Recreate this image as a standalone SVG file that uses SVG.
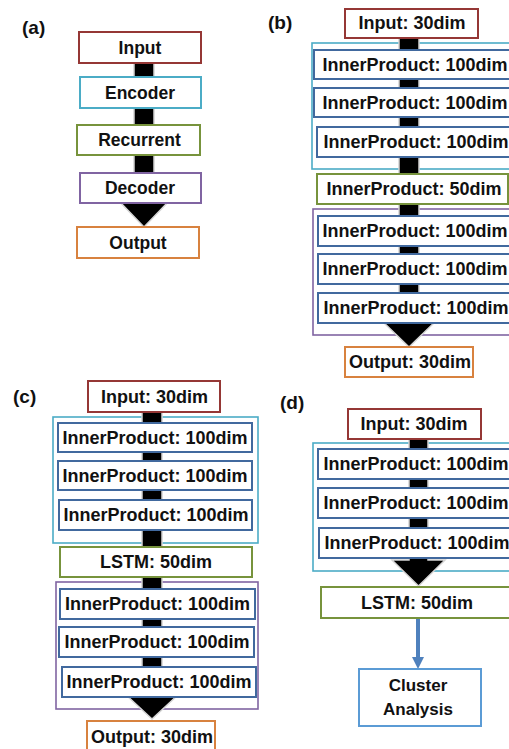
<svg xmlns="http://www.w3.org/2000/svg" width="509" height="749" viewBox="0 0 509 749">
<style>
text{font-family:"Liberation Sans",Arial,sans-serif;font-weight:bold;fill:#111;text-anchor:middle}
.lbl{font-size:19px;text-anchor:start}
.a{font-size:17.5px}
.t{font-size:18px}
.c{font-size:17px}
rect{fill:#fff;stroke-width:2}
.in{stroke:#953735}
.enc{stroke:#4bacc6}
.rec{stroke:#77933c}
.dec{stroke:#8064a2}
.out{stroke:#d8823f}
.ip{stroke:#41699e}
.clu{stroke:#5b9bd5}
.grp{fill:none;stroke-width:1.6}
.ge{stroke:#4bacc6}
.gd{stroke:#8064a2}
.arr{fill:#000;stroke:#d4d4d4;stroke-width:1.5}
</style>
<text class="lbl" x="22" y="34">(a)</text>
<text class="lbl" x="268" y="29">(b)</text>
<text class="lbl" x="13" y="403">(c)</text>
<text class="lbl" x="280" y="409">(d)</text>

<!-- group frames -->
<g id="frames">
<rect class="grp ge" x="312" y="43" width="210" height="126"/>
<rect class="grp gd" x="313" y="209" width="210" height="126"/>
<rect class="grp ge" x="53" y="417" width="205" height="126"/>
<rect class="grp gd" x="56" y="582" width="202" height="127"/>
<rect class="grp ge" x="313" y="443" width="210" height="128"/>
</g>

<!-- connectors -->
<g id="connectors">
<polygon class="arr" points="134,63 154,63 154,200 170,200 144,227 118,200 134,200 134,63"/>
<polygon class="arr" points="399,38 419,38 419,320 437,320 409,347 381,320 399,320 399,38"/>
<polygon class="arr" points="142,412 162,412 162,693 180,693 152,719 124,693 142,693 142,412"/>
<polygon class="arr" points="409,439 428,439 428,560 445,560 418.5,586 392,560 409,560 409,439"/>
<line x1="418" y1="618" x2="418" y2="658" stroke="#4f81bd" stroke-width="4"/>
<polygon points="412,657 424,657 418,669" fill="#4f81bd"/>
</g>

<!-- panel a -->
<g id="a-input"><rect class="in" x="79" y="32" width="122" height="31"/><text class="a" x="140" y="53.5">Input</text></g>
<g id="a-encoder"><rect class="enc" x="80" y="77" width="121" height="31"/><text class="a" x="140" y="98.5">Encoder</text></g>
<g id="a-recurrent"><rect class="rec" x="77" y="125" width="123" height="30"/><text class="a" x="139.5" y="146">Recurrent</text></g>
<g id="a-decoder"><rect class="dec" x="80" y="173" width="121" height="30"/><text class="a" x="140" y="194">Decoder</text></g>
<g id="a-output"><rect class="out" x="77" y="227" width="122" height="31"/><text class="a" x="138" y="248.5">Output</text></g>

<!-- panel b -->
<g id="b-input"><rect class="in" x="345" y="9" width="133" height="29"/><text class="t" x="412" y="29">Input: 30dim</text></g>
<g id="b-ip1"><rect class="ip" x="314" y="50" width="205" height="29"/><text class="t" x="415" y="70.5">InnerProduct: 100dim</text></g>
<g id="b-ip2"><rect class="ip" x="314" y="88" width="205" height="29"/><text class="t" x="415" y="108.5">InnerProduct: 100dim</text></g>
<g id="b-ip3"><rect class="ip" x="317" y="127" width="205" height="30"/><text class="t" x="416" y="148">InnerProduct: 100dim</text></g>
<g id="b-ip50"><rect class="rec" x="317" y="174" width="191" height="30"/><text class="t" x="414" y="195">InnerProduct: 50dim</text></g>
<g id="b-ip4"><rect class="ip" x="318" y="216" width="205" height="30"/><text class="t" x="415" y="237">InnerProduct: 100dim</text></g>
<g id="b-ip5"><rect class="ip" x="318" y="254" width="205" height="30"/><text class="t" x="415" y="275">InnerProduct: 100dim</text></g>
<g id="b-ip6"><rect class="ip" x="318" y="293" width="205" height="30"/><text class="t" x="416" y="314">InnerProduct: 100dim</text></g>
<g id="b-output"><rect class="out" x="345" y="347" width="128" height="30"/><text class="t" x="410" y="368">Output: 30dim</text></g>

<!-- panel c -->
<g id="c-input"><rect class="in" x="88" y="381" width="132" height="31"/><text class="t" x="154.5" y="402.5">Input: 30dim</text></g>
<g id="c-ip1"><rect class="ip" x="58" y="423" width="194" height="29"/><text class="t" x="155" y="443.5">InnerProduct: 100dim</text></g>
<g id="c-ip2"><rect class="ip" x="58" y="461" width="194" height="29"/><text class="t" x="155" y="481.5">InnerProduct: 100dim</text></g>
<g id="c-ip3"><rect class="ip" x="59" y="500" width="193" height="30"/><text class="t" x="156" y="521">InnerProduct: 100dim</text></g>
<g id="c-lstm"><rect class="rec" x="60" y="547" width="192" height="30"/><text class="t" x="156" y="568">LSTM: 50dim</text></g>
<g id="c-ip4"><rect class="ip" x="60" y="589" width="195" height="30"/><text class="t" x="157.5" y="610">InnerProduct: 100dim</text></g>
<g id="c-ip5"><rect class="ip" x="59" y="627" width="195" height="30"/><text class="t" x="157" y="648">InnerProduct: 100dim</text></g>
<g id="c-ip6"><rect class="ip" x="62" y="667" width="194" height="30"/><text class="t" x="159" y="688">InnerProduct: 100dim</text></g>
<g id="c-output"><rect class="out" x="87" y="721" width="128" height="31"/><text class="t" x="152" y="743">Output: 30dim</text></g>

<!-- panel d -->
<g id="d-input"><rect class="in" x="348" y="409" width="133" height="30"/><text class="t" x="414" y="430">Input: 30dim</text></g>
<g id="d-ip1"><rect class="ip" x="318" y="449" width="205" height="30"/><text class="t" x="416" y="470">InnerProduct: 100dim</text></g>
<g id="d-ip2"><rect class="ip" x="318" y="488" width="205" height="30"/><text class="t" x="416" y="509">InnerProduct: 100dim</text></g>
<g id="d-ip3"><rect class="ip" x="319" y="528" width="205" height="30"/><text class="t" x="417" y="549">InnerProduct: 100dim</text></g>
<g id="d-lstm"><rect class="rec" x="321" y="587" width="205" height="31"/><text class="t" x="417" y="608.5">LSTM: 50dim</text></g>
<g id="d-cluster"><rect class="clu" x="359" y="669" width="122" height="57"/><text class="c" x="418" y="691">Cluster</text><text class="c" x="418" y="715">Analysis</text></g>
</svg>
